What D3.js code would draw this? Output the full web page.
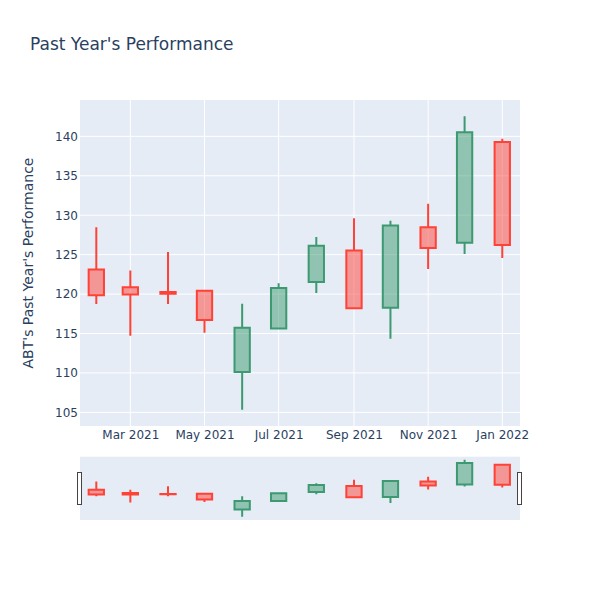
<!DOCTYPE html>
<html><head><meta charset="utf-8">
<script src="https://cdn.jsdelivr.net/npm/d3@7"></script>
<style>
body{margin:0;background:#fff}
text{font-family:"DejaVu Sans",Verdana,sans-serif;fill:#2a3f5f}
</style>
</head><body><svg id="c" width="600" height="600"></svg>
<script>
const dates = ["2021-02-01","2021-03-01","2021-04-01","2021-05-01","2021-06-01","2021-07-01","2021-08-01","2021-09-01","2021-10-01","2021-11-01","2021-12-01","2022-01-01"];
const openV  = [123.1, 120.85, 120.25, 120.43, 110.11, 115.62, 121.52, 125.54, 118.28, 128.46, 126.52, 139.28];
const highV  = [128.46, 123.0, 125.33, 120.43, 118.78, 121.36, 127.23, 129.6, 129.3, 131.46, 142.54, 139.7];
const lowV   = [118.74, 114.72, 118.74, 115.1, 105.34, 115.62, 120.13, 118.1, 114.35, 123.18, 125.08, 124.57];
const closeV = [119.85, 119.95, 120.05, 116.71, 115.74, 120.77, 126.14, 118.19, 128.68, 125.84, 140.51, 126.22];
const yTicks = [105,110,115,120,125,130,135,140];
const xTicks = ["2021-03-01","2021-05-01","2021-07-01","2021-09-01","2021-11-01","2022-01-01"];
const titleText = "Past Year's Performance";
const yTitle = "ABT's Past Year's Performance";

const parse = d3.timeParse("%Y-%m-%d");
const data = dates.map((d,i)=>({x:parse(d),o:openV[i],h:highV[i],l:lowV[i],c:closeV[i]}));

const svg = d3.select("#c");
const L=80,R=520,T=100,B=426,ST=456.7,SB=520;

const x = d3.scaleTime().domain([new Date(2021,0,18,14), new Date(2022,0,15,14)]).range([L,R]);
const lo = d3.min(lowV), hi = d3.max(highV), pad=(hi-lo)*0.0556;
const y = d3.scaleLinear().domain([lo-pad, hi+pad]).range([B,T]);
const ys = d3.scaleLinear().domain([lo-pad, hi+pad]).range([SB,ST]);

const incLine="#3D9970", incFill="rgba(61,153,112,0.5)", decLine="#FF4136", decFill="rgba(255,65,54,0.5)";

// plot background
svg.append("rect").attr("x",L).attr("y",T).attr("width",R-L).attr("height",B-T).attr("fill","#E5ECF6");
// grid
svg.append("g").selectAll("line").data(yTicks).join("line")
  .attr("x1",L).attr("x2",R).attr("y1",d=>y(d)).attr("y2",d=>y(d)).attr("stroke","#fff").attr("stroke-width",1);
svg.append("g").selectAll("line").data(xTicks.map(parse)).join("line")
  .attr("y1",T).attr("y2",B).attr("x1",d=>x(d)).attr("x2",d=>x(d)).attr("stroke","#fff").attr("stroke-width",1);

svg.append("clipPath").attr("id","cp").append("rect").attr("x",L).attr("y",T).attr("width",R-L).attr("height",B-T);
svg.append("clipPath").attr("id","cs").append("rect").attr("x",L).attr("y",ST).attr("width",R-L).attr("height",SB-ST);

let minGap = Infinity;
for(let i=1;i<data.length;i++) minGap=Math.min(minGap, x(data[i].x)-x(data[i-1].x));
const bw = minGap*0.45;

function candles(g, ysc){
  g.selectAll("path").data(data).join("path")
    .attr("d",d=>{
      const cx=x(d.x), yo=ysc(d.o), yc=ysc(d.c), yh=ysc(d.h), yl=ysc(d.l);
      const top=Math.min(yo,yc), bot=Math.max(yo,yc);
      return `M${cx-bw/2},${top}H${cx+bw/2}V${bot}H${cx-bw/2}Z M${cx},${yh}V${top} M${cx},${yl}V${bot}`;
    })
    .attr("fill",d=>d.c>=d.o?incFill:decFill)
    .attr("stroke",d=>d.c>=d.o?incLine:decLine)
    .attr("stroke-width",2);
}
candles(svg.append("g").attr("clip-path","url(#cp)"), y);

// y axis
const ya = svg.append("g").attr("transform",`translate(${L},0)`)
  .call(d3.axisLeft(y).tickValues(yTicks).tickSize(0).tickPadding(2));
ya.select(".domain").remove();
ya.selectAll("text").attr("font-size",12).attr("fill","#2a3f5f").attr("font-family","DejaVu Sans, Verdana, sans-serif");

// x axis
const xa = svg.append("g").attr("transform",`translate(0,${B})`)
  .call(d3.axisBottom(x).tickValues(xTicks.map(parse)).tickFormat(d3.timeFormat("%b %Y")).tickSize(0).tickPadding(4));
xa.select(".domain").remove();
xa.selectAll("text").attr("font-size",12).attr("fill","#2a3f5f").attr("font-family","DejaVu Sans, Verdana, sans-serif");

// range slider
svg.append("rect").attr("x",L).attr("y",ST).attr("width",R-L).attr("height",SB-ST).attr("fill","#E5ECF6");
candles(svg.append("g").attr("clip-path","url(#cs)"), ys);
const hh=32, hy=(ST+SB)/2-hh/2;
[L,R].forEach(px=>{
  svg.append("rect").attr("x",px-2.5).attr("y",hy).attr("width",4).attr("height",hh)
    .attr("fill","#fff").attr("stroke","#444").attr("stroke-width",1).attr("shape-rendering","crispEdges");
});

// titles
svg.append("text").attr("x",30).attr("y",50).attr("font-size",17).text(titleText);
svg.append("text").attr("transform",`translate(33,${(T+B)/2}) rotate(-90)`).attr("text-anchor","middle")
  .attr("font-size",14).text(yTitle);
</script></body></html>
